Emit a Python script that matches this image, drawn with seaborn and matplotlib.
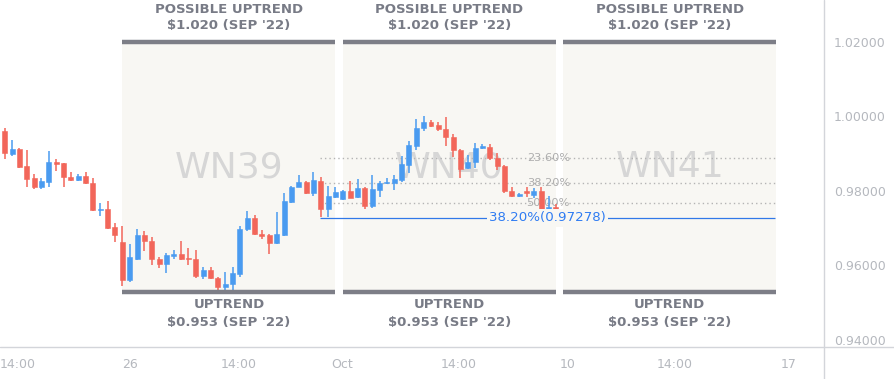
import numpy as np
import pandas as pd
import matplotlib
matplotlib.use("Agg")
import matplotlib.pyplot as plt
from matplotlib.lines import Line2D
import seaborn as sns

# 4h candles, bar index 0 = first bar of week 39
bar_idx = list(range(-16, 60))
opens = [0.99611, 0.99001, 0.99127, 0.98671, 0.98341, 0.98115, 0.98249, 0.98778, 0.98743, 0.98376,
         0.98295, 0.98402, 0.98214, 0.97489, 0.97508, 0.97033,
         0.96630, 0.95623, 0.96182, 0.96818, 0.96657, 0.96174, 0.96032, 0.96254, 0.96308, 0.96201,
         0.96174, 0.95725, 0.95878, 0.95664, 0.95422, 0.95503, 0.95771, 0.96971, 0.97267, 0.96845,
         0.96810, 0.96595, 0.96818, 0.97712, 0.98115, 0.98233, 0.97959, 0.98270, 0.97508, 0.97847,
         0.97777, 0.98000, 0.97831, 0.98072, 0.97605, 0.98026, 0.98206, 0.98222, 0.98295, 0.98698,
         0.99216, 0.99683, 0.99844, 0.99772, 0.99664, 0.99458, 0.99100, 0.98609, 0.98786, 0.99162,
         0.99189, 0.98878, 0.98671, 0.98000, 0.97865, 0.97981, 0.97884, 0.98000, 0.97444, 0.97562]
highs = [0.99683, 0.99369, 0.99154, 0.99100, 0.98456, 0.98349, 0.99074, 0.98859, 0.98760, 0.98510,
         0.98456, 0.98510, 0.98349, 0.97677, 0.97731, 0.97140,
         0.97060, 0.96577, 0.96979, 0.96934, 0.96765, 0.96228, 0.96335, 0.96415, 0.96657, 0.96469,
         0.96415, 0.95959, 0.95959, 0.95699, 0.95817, 0.95951, 0.97047, 0.97463, 0.97355, 0.96952,
         0.96845, 0.97436, 0.97954, 0.98134, 0.98429, 0.98260, 0.98515, 0.98384, 0.98134, 0.98094,
         0.98026, 0.98270, 0.98314, 0.98099, 0.98421, 0.98270, 0.98341, 0.98429, 0.98939, 0.99350,
         0.99925, 1.00013, 0.99906, 0.99852, 0.99978, 0.99522, 0.99119, 0.98966, 0.99280, 0.99262,
         0.99262, 0.99012, 0.98698, 0.98115, 0.97938, 0.98099, 0.98072, 0.98099, 0.97865, 0.97651]
lows = [0.98851, 0.98947, 0.98617, 0.98115, 0.98061, 0.98061, 0.98115, 0.98545, 0.98115, 0.98276,
        0.98276, 0.98180, 0.97463, 0.97336, 0.96987, 0.96638,
        0.95449, 0.95564, 0.96155, 0.96397, 0.96013, 0.95940, 0.95790, 0.96182, 0.96155, 0.96021,
        0.95664, 0.95645, 0.95637, 0.95333, 0.95269, 0.95333, 0.95699, 0.96926, 0.96820, 0.96703,
        0.96316, 0.96577, 0.96791, 0.97669, 0.98099, 0.97919, 0.97865, 0.97310, 0.97294, 0.97812,
        0.97758, 0.97804, 0.97812, 0.97510, 0.97551, 0.97847, 0.98188, 0.98026, 0.98249, 0.98491,
        0.99100, 0.99619, 0.99710, 0.99619, 0.99208, 0.98905, 0.98341, 0.98582, 0.98609, 0.99119,
        0.98832, 0.98563, 0.97954, 0.97831, 0.97831, 0.97847, 0.97804, 0.97355, 0.97401, 0.97267]
closes = [0.99012, 0.99127, 0.98652, 0.98330, 0.98115, 0.98268, 0.98778, 0.98733, 0.98368, 0.98303,
          0.98402, 0.98206, 0.97481, 0.97516, 0.97014, 0.96810,
          0.95618, 0.96228, 0.96818, 0.96649, 0.96166, 0.96032, 0.96273, 0.96308, 0.96182, 0.96166,
          0.95725, 0.95878, 0.95664, 0.95422, 0.95495, 0.95790, 0.96971, 0.97267, 0.96837, 0.96799,
          0.96595, 0.96845, 0.97731, 0.98120, 0.98241, 0.97946, 0.98295, 0.97508, 0.97860, 0.97968,
          0.98000, 0.97820, 0.98080, 0.97605, 0.98053, 0.98206, 0.98241, 0.98314, 0.98725, 0.99235,
          0.99683, 0.99844, 0.99753, 0.99656, 0.99458, 0.99100, 0.98582, 0.98786, 0.99146, 0.99208,
          0.98878, 0.98671, 0.98000, 0.97865, 0.97919, 0.97954, 0.98000, 0.97489, 0.97578, 0.97355]

weeks = ["WN39", "WN40", "WN41"]
week_start = [0, 30, 60]
upper_level = 1.020
lower_level = 0.953
upper_text = ["POSSIBLE UPTREND", "$1.020 (SEP '22)"]
lower_text = ["UPTREND", "$0.953 (SEP '22)"]

fib_labels = ["23.60%", "38.20%", "50.00%"]
fib_values = [0.98899, 0.98215, 0.97664]
fib_blue_label = "38.20%(0.97278)"
fib_blue_value = 0.97278

x_tick_pos = [-14.2, 1.1, 15.9, 29.9, 45.7, 60.6, 75.2, 90.7]
x_tick_labels = ["14:00", "26", "14:00", "Oct", "14:00", "10", "14:00", "17"]
y_ticks = [0.94, 0.96, 0.98, 1.00, 1.02]

df = pd.DataFrame({"i": bar_idx, "open": opens, "high": highs, "low": lows, "close": closes})

UP = "#4A9BF0"
DOWN = "#F2665A"
BOX = "#F8F7F3"
BAR = "#7D7E87"
TXT = "#787B86"
AXIS_TXT = "#B5B8BE"

sns.set_theme(style="white")
plt.rcParams["font.family"] = ["DejaVu Sans"]

fig = plt.figure(figsize=(8.94, 3.79), dpi=100)
ax = fig.add_axes([0, 1 - 347 / 379, 824 / 894, 347 / 379])
ax.set_xlim(-16.64, 95.47)
ax.set_ylim(0.93811, 1.03128)
for s in ax.spines.values():
    s.set_visible(False)

# weekly boxes
for name, st in zip(weeks, week_start):
    x0, x1 = st, st + 29
    ax.fill_between([x0, x1], lower_level, upper_level, color=BOX, lw=0, zorder=0)
    ax.hlines([upper_level, lower_level], x0, x1, color=BAR, lw=3.2, zorder=4,
              capstyle="butt")
    xc = (x0 + x1) / 2
    ax.text(xc, 0.98644, name, ha="center", va="center", fontsize=26,
            color="#D6D6D6", zorder=1)
    ax.text(xc, 1.0286, upper_text[0], ha="center", va="center", fontsize=9.5,
            fontweight="bold", color=TXT, clip_on=False)
    ax.text(xc, 1.0243, upper_text[1], ha="center", va="center", fontsize=9.5,
            fontweight="bold", color=TXT, clip_on=False)
    ax.text(xc, 0.94939, lower_text[0], ha="center", va="center", fontsize=9.5,
            fontweight="bold", color=TXT)
    ax.text(xc, 0.94456, lower_text[1], ha="center", va="center", fontsize=9.5,
            fontweight="bold", color=TXT)

# fib levels
fib_x0, fib_x1 = 26.9, 88.8
for lab, v in zip(fib_labels, fib_values):
    ax.hlines(v, fib_x0, fib_x1, color="#B4B4B4", lw=1.0, linestyles=(0, (1, 2.2)), zorder=1)
    ax.text(60.9, v, lab, ha="right", va="center", fontsize=8.2, color="#ADADAD", zorder=1)
ax.hlines(fib_blue_value, fib_x0, fib_x1, color="#3178E8", lw=0.9, zorder=2)
ax.text(57.9, fib_blue_value, fib_blue_label, ha="center", va="center", fontsize=9.6,
        color="#2F7CF2", zorder=5,
        bbox=dict(facecolor=BOX, edgecolor="none", pad=1.5))

# candles
up = df["close"] >= df["open"]
colors = np.where(up, UP, DOWN)
ax.vlines(df["i"], df["low"], df["high"], colors=colors, lw=1.1, zorder=3)
body_low = df[["open", "close"]].min(axis=1)
body_h = (df["close"] - df["open"]).abs().clip(lower=0.00035)
ax.bar(df["i"], body_h, bottom=body_low, width=0.68, color=colors,
       edgecolor=colors, linewidth=0.4, zorder=3)

# axes text
ax.set_xticks(x_tick_pos, x_tick_labels)
ax.yaxis.tick_right()
ax.set_yticks(y_ticks, [f"{v:.5f}" for v in y_ticks])
ax.tick_params(axis="x", length=0, pad=8, labelsize=9, labelcolor=AXIS_TXT)
ax.tick_params(axis="y", length=0, pad=7, labelsize=9, labelcolor=AXIS_TXT)
ax.grid(False)

fig.add_artist(Line2D([0, 1], [1 - 347 / 379] * 2, color="#D3D5DA", lw=1.0))
fig.add_artist(Line2D([824 / 894] * 2, [0, 1], color="#D3D5DA", lw=1.0))

fig.savefig("out.png", dpi=100)
